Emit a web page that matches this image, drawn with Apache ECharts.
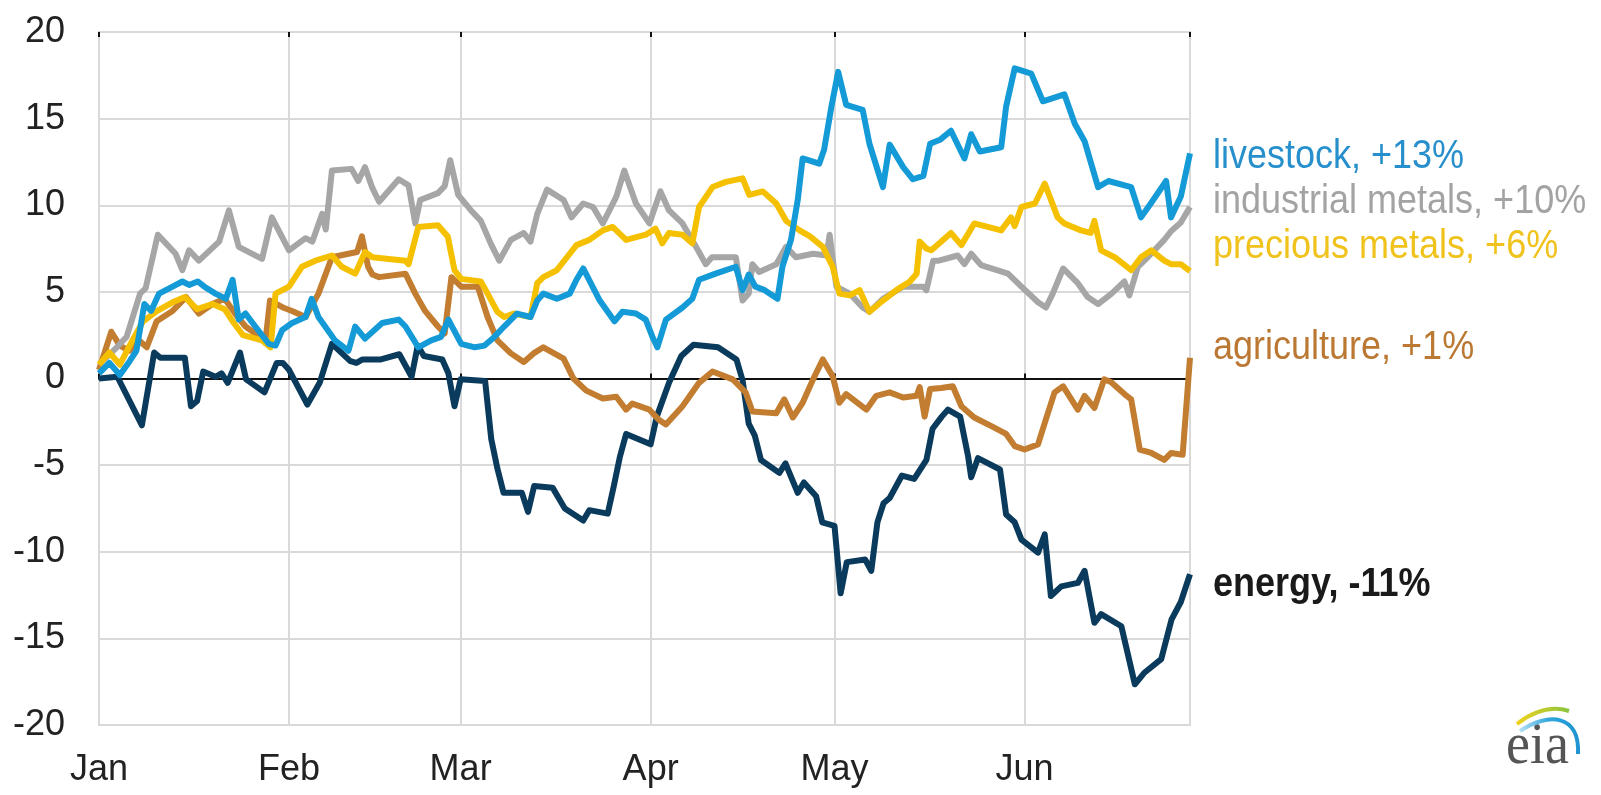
<!DOCTYPE html>
<html>
<head>
<meta charset="utf-8">
<script src="https://cdn.jsdelivr.net/npm/echarts@6/dist/echarts.min.js"></script>
<style>
html,body{margin:0;padding:0;background:#fff;}
#chart{width:1601px;height:795px;}
</style>
</head>
<body>
<div id="chart"></div>
<script>
// x = days since Jan 1 2017, y = percent change since start of year
const monthLabels = ['Jan','Feb','Mar','Apr','May','Jun','Jul','Aug','Sep','Oct','Nov','Dec'];
const yTicks = {min: -20, max: 20, interval: 5};
const seriesNames = ['energy','agriculture','industrial metals','precious metals','livestock'];
const endLabels = ['energy, -11%','agriculture, +1%','industrial metals, +10%','precious metals, +6%','livestock, +13%'];
const lastDay = 178;

const energy = [[0,0],[3,0.1],[7,-2.7],[9,1.5],[10,1.2],[14,1.2],[15,-1.6],[16,-1.3],[17,0.4],[19,0.1],[20,0.3],[21,-0.25],[23,1.5],[24,-0.05],[27,-0.8],[29,0.9],[30,0.9],[31,0.5],[34,-1.5],[36,-0.25],[38,2.0],[41,1.0],[42,0.9],[43,1.1],[46,1.1],[49,1.4],[51,0.1],[52,1.9],[53,1.3],[56,1.1],[57,0.3],[58,-1.6],[59,-0.05],[63,-0.15],[64,-3.5],[65,-5.2],[66,-6.6],[69,-6.6],[70,-7.7],[71,-6.2],[74,-6.3],[76,-7.5],[79,-8.2],[80,-7.6],[83,-7.8],[84,-6.2],[85,-4.5],[86,-3.2],[90,-3.8],[91,-2.2],[93,-0.25],[95,1.3],[97,1.95],[101,1.8],[104,1.1],[105,-0.1],[106,-2.6],[107,-3.3],[108,-4.7],[111,-5.45],[112,-4.9],[114,-6.6],[115,-6.0],[117,-6.8],[118,-8.3],[120,-8.5],[121,-12.4],[122,-10.6],[125,-10.45],[126,-11.1],[127,-8.3],[128,-7.2],[129,-6.9],[131,-5.6],[133,-5.8],[135,-4.7],[136,-2.9],[137.5,-2.2],[138.5,-1.8],[140.5,-2.2],[141.8,-4.5],[142.3,-5.7],[143.4,-4.6],[147,-5.25],[148,-7.85],[149.4,-8.3],[150.5,-9.3],[153.2,-10.05],[154.3,-9.0],[155.3,-12.55],[157,-12.0],[159.7,-11.8],[160.8,-11.1],[162.4,-14.1],[163.5,-13.6],[166.8,-14.3],[169,-17.65],[170.5,-17.0],[173.3,-16.2],[175,-13.9],[176.5,-12.9],[178,-11.3]];

const agriculture = [[0,0.5],[2,2.7],[3.4,1.9],[5,1.6],[6.5,2.2],[7.8,1.8],[9.4,3.3],[12,3.9],[14.2,4.7],[16.3,3.75],[18.5,4.3],[20.5,4.6],[22.5,3.6],[23.9,3.0],[25.5,2.6],[27.2,2.3],[27.9,4.5],[30,4.1],[31.5,3.9],[33.7,3.55],[35.8,4.9],[38,7.0],[40.7,7.2],[42.1,7.3],[42.9,8.2],[43.9,6.45],[44.6,6.0],[45.7,5.85],[50,6.05],[51.6,4.9],[53.2,3.9],[55.3,3.0],[56.4,2.6],[57.5,5.85],[59.1,5.3],[61.8,5.3],[63.4,3.55],[65,2.2],[67.2,1.45],[69.3,0.95],[70.9,1.45],[72.5,1.8],[75.8,1.15],[77.4,0.0],[79.5,-0.7],[82.2,-1.15],[84.4,-1.05],[86,-1.8],[87,-1.45],[89.8,-1.8],[91.4,-2.4],[92.5,-2.65],[95.2,-1.6],[97.9,-0.25],[100.1,0.4],[103.4,-0.05],[105.5,-0.8],[106.6,-1.9],[110.5,-2.0],[111.8,-1.2],[113.2,-2.25],[114.8,-1.4],[116.5,-0.05],[118.1,1.1],[119.7,0.13],[120.8,-1.4],[121.9,-0.9],[125.2,-1.8],[126.8,-1.0],[129,-0.8],[131.2,-1.1],[133.4,-1.0],[133.9,-0.5],[134.7,-2.2],[135.6,-0.6],[137.4,-0.55],[139.3,-0.45],[140.7,-1.6],[142.8,-2.25],[145.6,-2.75],[148,-3.2],[149.4,-3.9],[151,-4.1],[153.2,-3.8],[154.5,-2.35],[155.9,-0.8],[157.3,-0.45],[159.7,-1.8],[160.8,-1.0],[162.4,-1.7],[164,-0.05],[165.1,-0.2],[167.3,-0.9],[168.4,-1.2],[169.8,-4.1],[171.7,-4.3],[173.8,-4.7],[174.9,-4.3],[176.8,-4.4],[178,1.2]];

const industrialMetals = [[0,0.8],[2.9,1.8],[4.5,2.4],[6.7,4.9],[7.6,5.2],[9.6,8.3],[12.5,7.2],[13.6,6.25],[14.7,7.4],[16.3,6.8],[19.6,7.9],[21.2,9.7],[22.8,7.6],[26.6,6.9],[28.2,9.3],[31,7.4],[33.7,8.1],[34.8,7.9],[36.4,9.5],[37,8.6],[38,12.0],[41.2,12.1],[42.3,11.4],[43.4,12.2],[44.6,11.0],[45.7,10.2],[48.9,11.5],[50.5,11.15],[51.6,8.95],[52.4,10.3],[55.3,10.7],[56.4,11.1],[57.3,12.6],[58.6,10.6],[60.7,9.7],[62.3,9.1],[63.9,7.8],[65.3,6.8],[67.2,8.0],[69.3,8.4],[70.4,7.9],[71.5,9.5],[73.1,10.9],[75.8,10.3],[77.1,9.3],[79,10.1],[80.6,9.9],[82.2,8.95],[84.4,10.5],[85.7,12.0],[87.6,10.1],[89.8,8.95],[91.6,10.8],[93,9.7],[95.2,8.95],[97.4,7.6],[99,6.6],[100,7.0],[103.9,7.0],[105,4.5],[106,4.9],[106.6,6.6],[107.7,6.15],[110.5,6.6],[112.1,7.6],[113.7,7.0],[116.5,7.2],[118.7,7.1],[119.2,8.3],[120.3,5.3],[122.5,4.9],[124.6,4.1],[125.7,3.85],[127.9,4.6],[131.2,5.3],[134.5,5.3],[135,5.1],[136.1,6.8],[137,6.8],[140.1,7.1],[141.2,6.6],[142.3,7.2],[143.9,6.55],[148.3,6.05],[150.5,5.3],[153.2,4.4],[154.5,4.1],[155.6,4.9],[157.3,6.35],[159.7,5.5],[161.3,4.7],[163,4.3],[165.2,4.9],[167.3,5.6],[168.1,4.8],[169.5,6.45],[171.1,7.0],[173.8,8.0],[174.9,8.5],[176.5,9.0],[178,9.9]];

const preciousMetals = [[0,0.8],[1.7,1.5],[3.4,0.8],[5,1.9],[7.2,3.3],[9.5,3.9],[12,4.4],[14,4.7],[16,4.0],[18.5,4.3],[20.5,4.0],[22,3.2],[23.5,2.5],[26.6,2.2],[28,1.8],[28.8,4.9],[31,5.3],[33.1,6.45],[35.3,6.8],[38,7.1],[39.6,6.45],[41.8,6.05],[43.4,7.3],[44.6,7.0],[50,6.8],[50.5,6.6],[52.1,8.75],[55.3,8.85],[56.9,8.2],[58,6.25],[59.1,5.75],[62.3,5.6],[63.4,4.9],[65,3.85],[66.1,3.55],[67.7,3.75],[70.4,3.55],[71.5,5.5],[72.5,5.85],[74.7,6.25],[76.8,7.2],[77.9,7.7],[80,8.0],[82.2,8.55],[83.8,8.75],[86,8.0],[89.2,8.3],[90.8,8.65],[91.9,7.8],[93,8.4],[95.2,8.3],[96.8,7.8],[97.9,9.9],[100.1,11.05],[102.3,11.35],[105,11.55],[106.1,10.6],[108.3,10.8],[110.5,10.1],[112.1,9.1],[114.3,8.55],[116,8.2],[118.1,7.6],[119.7,6.45],[120.8,4.9],[122.5,4.8],[124.1,5.1],[125.7,3.85],[127.9,4.5],[130.1,5.1],[132.3,5.6],[133.4,6.05],[133.9,7.9],[135,7.5],[135.8,7.4],[139,8.4],[140.7,7.7],[142.8,8.95],[145,8.75],[147.2,8.55],[148.8,9.3],[149.4,8.8],[150.5,9.9],[152.7,10.1],[154.3,11.25],[154.9,10.7],[156.4,9.3],[157.5,8.95],[160.2,8.55],[161.8,8.4],[162.4,9.1],[163.5,7.4],[165.7,7.0],[168.4,6.25],[170,7.0],[171.7,7.4],[173.8,6.8],[174.9,6.6],[176.5,6.6],[178,6.2]];

const livestock = [[0,0.3],[1.7,0.9],[3.4,0.2],[5,1.0],[6.1,1.6],[7.4,4.3],[8.5,3.9],[9.8,4.9],[12,5.3],[13.6,5.6],[14.7,5.4],[16.1,5.6],[17.2,5.3],[19,4.9],[20.7,4.6],[21.8,5.7],[22.8,3.4],[23.9,3.75],[25.5,3.0],[27.7,2.0],[28.8,1.9],[29.9,2.8],[31.5,3.2],[33.7,3.55],[34.7,4.6],[35.8,3.55],[38.5,2.2],[40.7,1.6],[41.8,3.0],[43.4,2.3],[46.2,3.2],[48.9,3.4],[50,3.0],[52.1,1.8],[54.2,2.2],[55.8,2.4],[57,3.4],[59.1,2.0],[61.3,1.8],[62.9,1.9],[64.5,2.4],[66.1,3.0],[68.2,3.75],[70.4,3.55],[71.5,4.5],[72.5,4.9],[74.7,4.6],[76.8,4.9],[77.9,5.7],[79,6.35],[81.7,4.5],[84.1,3.3],[85.4,3.85],[87.6,3.75],[89.2,3.4],[90.3,2.4],[91.1,1.8],[92.5,3.4],[95.2,4.1],[96.8,4.6],[97.9,5.7],[100.6,6.05],[103.9,6.45],[105,5.1],[106,6.0],[107.1,5.3],[108.6,5.1],[110.7,4.6],[111.5,6.45],[112.9,8.0],[114,10.3],[114.8,12.7],[117.5,12.4],[118.3,13.2],[119.5,15.7],[120.6,17.7],[121.9,15.8],[124.6,15.5],[125.7,13.55],[127.9,11.05],[129,13.5],[131.2,12.2],[132.8,11.5],[134.5,11.7],[135.6,13.55],[137.3,13.8],[139,14.3],[141.2,12.7],[142.3,14.1],[143.7,13.1],[147.2,13.35],[148,15.7],[149.4,17.9],[152.1,17.6],[154,16.0],[157.5,16.4],[159.2,14.7],[160.8,13.7],[163,11.05],[164.7,11.4],[168.4,11.05],[170,9.3],[171.6,10.1],[174.1,11.4],[174.9,9.3],[176.5,10.5],[178,13.0]];

const lineColors = ['#0b3b5c','#c27d30','#a6a6a6','#f5c000','#149ad6'];
const labelColors = ['#1a1a1a','#bb7833','#a3a3a3','#f0c21c','#2790cc'];

const t0 = new Date(2017, 0, 1).getTime();
const DAY = 86400000;
const toTime = d => t0 + d * DAY;
const allData = [energy, agriculture, industrialMetals, preciousMetals, livestock];

const chart = echarts.init(document.getElementById('chart'), null, {renderer: 'canvas'});
const fontFam = '"Liberation Sans", Arial, sans-serif';
const labelY = [585, 348, 202, 247, 157];

const option = {
  animation: false,
  backgroundColor: '#ffffff',
  grid: {left: 99, right: 411, top: 32, bottom: 70, show: true, borderColor: '#cfcfcf', borderWidth: 2, containLabel: false},
  xAxis: [
    {
      type: 'time', min: toTime(0), max: toTime(lastDay), splitNumber: 6,
      minInterval: 28 * DAY, maxInterval: 31 * DAY,
      axisLine: {show: false, onZero: false},
      axisTick: {show: false},
      splitLine: {show: true, lineStyle: {color: '#d9d9d9', width: 2}},
      axisLabel: {
        color: '#222', fontSize: 36, fontFamily: fontFam, margin: 27,
        showMaxLabel: false,
        formatter: v => monthLabels[new Date(v).getMonth()]
      }
    },
    {
      type: 'time', min: toTime(0), max: toTime(lastDay), splitNumber: 6,
      minInterval: 28 * DAY, maxInterval: 31 * DAY,
      axisLine: {show: true, onZero: true, lineStyle: {color: '#111', width: 2}},
      axisTick: {show: true, length: 5, lineStyle: {color: '#111', width: 2}},
      axisLabel: {show: false}, splitLine: {show: false}
    },
    {
      type: 'time', min: toTime(0), max: toTime(lastDay), splitNumber: 6,
      minInterval: 28 * DAY, maxInterval: 31 * DAY,
      axisLine: {show: false, onZero: true},
      axisTick: {show: true, inside: true, length: 5, lineStyle: {color: '#111', width: 2}},
      axisLabel: {show: false}, splitLine: {show: false}
    }
  ],
  yAxis: {
    type: 'value', min: yTicks.min, max: yTicks.max, interval: yTicks.interval,
    axisLine: {show: false}, axisTick: {show: false},
    splitLine: {show: true, lineStyle: {color: '#d9d9d9', width: 2}},
    axisLabel: {color: '#222', fontSize: 36, fontFamily: fontFam, margin: 34}
  },
  series: allData.map((arr, i) => ({
    name: seriesNames[i],
    type: 'line',
    xAxisIndex: 0,
    showSymbol: false,
    symbol: 'none',
    lineStyle: {color: lineColors[i], width: 6, join: 'round'},
    data: arr.map(p => [toTime(p[0]), p[1]]),
    z: 3 + i
  })),
  graphic: [
    ...endLabels.map((txt, i) => ({
      type: 'text', x: 1213, y: labelY[i], scaleY: 1.15,
      style: {
        text: txt, fill: labelColors[i], fontSize: 36, fontFamily: fontFam,
        fontWeight: i === 0 ? 'bold' : 'normal', verticalAlign: 'middle', align: 'left'
      }
    })),
    {
      type: 'text', x: 1506, y: 747, scaleY: 1.1,
      style: {text: 'eia', fill: '#555', fontSize: 54, fontFamily: '"Liberation Serif", "DejaVu Serif", serif', verticalAlign: 'middle', align: 'left'}
    },
    {
      type: 'bezierCurve',
      shape: {x1: 1517, y1: 724, cpx1: 1535, cpy1: 710, cpx2: 1553, cpy2: 706, x2: 1569, y2: 711},
      style: {stroke: new echarts.graphic.LinearGradient(0, 0, 1, 0, [{offset: 0, color: '#f4d21e'}, {offset: 1, color: '#86c440'}]), lineWidth: 4, fill: null}
    },
    {
      type: 'bezierCurve',
      shape: {x1: 1520, y1: 731, cpx1: 1548, cpy1: 712, cpx2: 1580, cpy2: 714, x2: 1578, y2: 754},
      style: {stroke: new echarts.graphic.LinearGradient(0, 0, 1, 0, [{offset: 0, color: '#bfe3f5'}, {offset: 0.5, color: '#2ea6dd'}, {offset: 1, color: '#1d92cf'}]), lineWidth: 4, fill: null}
    }
  ]
};
chart.setOption(option);
</script>
</body>
</html>
